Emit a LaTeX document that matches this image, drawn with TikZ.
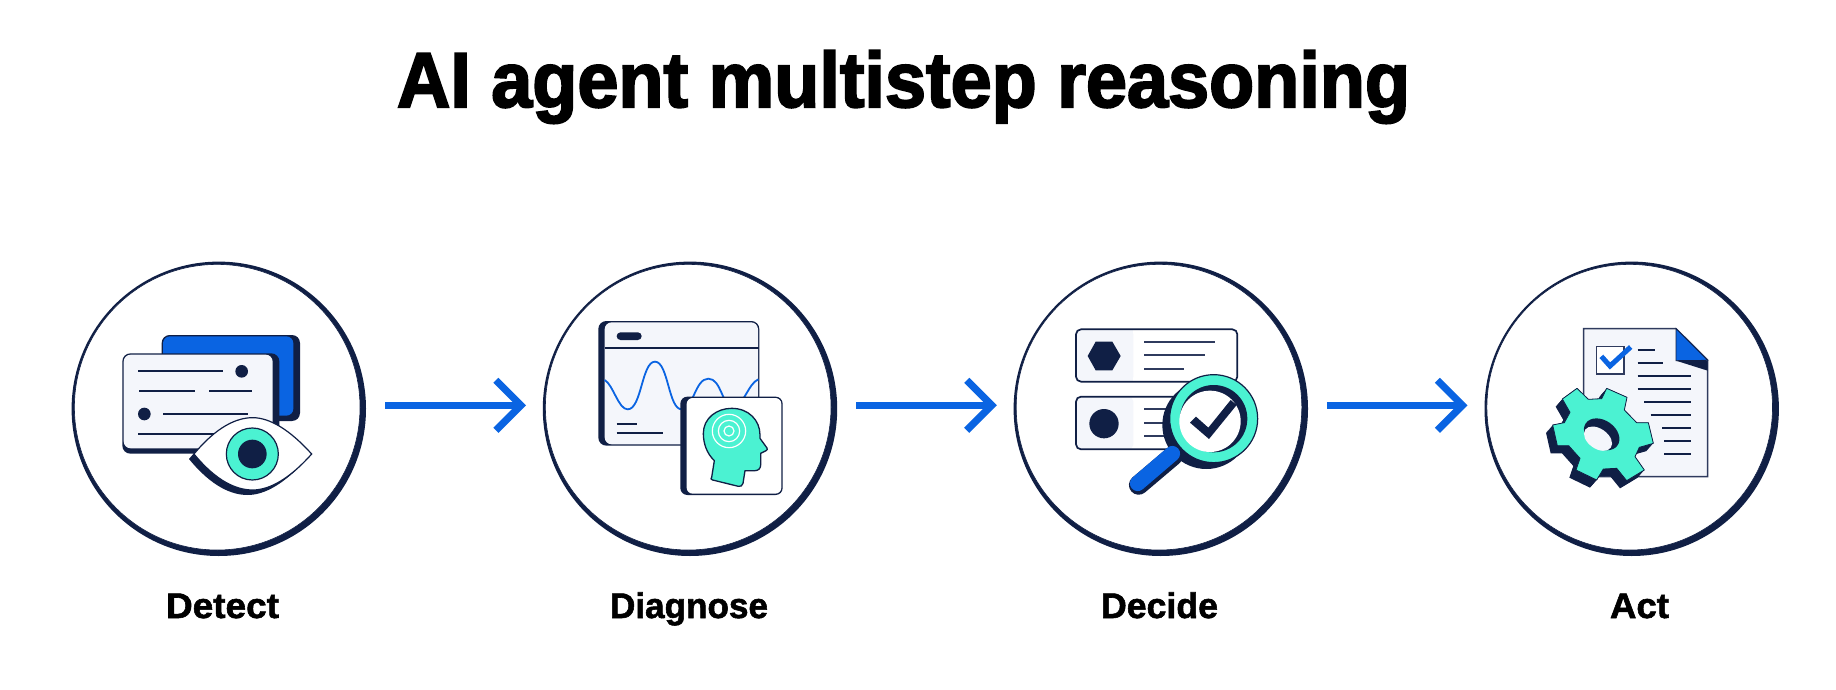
\documentclass[tikz,border=0pt]{standalone}
\usepackage{fontspec}
\usetikzlibrary{arrows.meta}
\newfontfamily\heavyfont[BoldFeatures={FakeBold=2.6}]{Liberation Sans}
\newfontfamily\labelfont[BoldFeatures={FakeBold=1.6}]{Liberation Sans}
\definecolor{navy}{HTML}{101F45}
\definecolor{royal}{HTML}{0A64E2}
\definecolor{mint}{HTML}{4BF2D2}
\definecolor{pale}{HTML}{F4F6FB}
\definecolor{slate}{HTML}{2F3B5E}
\tikzset{
  ring/.style={circle,draw=navy,fill=white,line width=0.6pt,minimum size=285.6pt,inner sep=0pt,outer sep=0pt},
  flow/.style={draw=royal,line width=6.6pt,line join=miter,shorten <=25pt,shorten >=19.4pt,
    -{Straight Barb[length=25pt,width=50pt,line width=7.2pt]}},
  txt/.style={inner sep=0pt,outer sep=0pt,anchor=base west,text=black},
  iconpx/.style={x=0.33333pt,y=-0.33333pt},
  rule/.style={draw=navy,line width=1.8pt},
  thin rule/.style={draw=slate,line width=1.8pt},
  card/.style={draw=navy,line width=1.2pt},
}
\newcommand{\gearpath}{(321,415) -- (355,448) -- (395,446) -- (410,415) -- (471,442) -- (463,480) -- (500,518) -- (535,518) -- (550,580) -- (508,592) -- (495,620) -- (523,660) -- (470,692) -- (440,655) -- (400,657) -- (380,690) -- (318,660) -- (330,625) -- (296,587) -- (262,587) -- (248,525) -- (283,518) -- (300,487) -- (277,447) -- cycle}
\begin{document}
\begin{tikzpicture}[x=1pt,y=-1pt]
\useasboundingbox (0,0) rectangle (1836,690);
\fill[white] (0,0) rectangle (1836,690);

% title
\node[txt] (title) at (397,107) {\resizebox{1013pt}{\height}{\fontsize{78}{80}\heavyfont\bfseries AI agent multistep reasoning}};

% circle shadows and rings
\fill[navy] (218.8,408.8) circle (147.2);
\fill[navy] (690,408.8) circle (147.2);
\fill[navy] (1160.8,408.8) circle (147.2);
\fill[navy] (1631.7,408.8) circle (147.2);
\node[ring] (c1) at (217.2,407.2) {};
\node[ring] (c2) at (688.2,407.2) {};
\node[ring] (c3) at (1159,407.2) {};
\node[ring] (c4) at (1629.7,407.2) {};

% connectors
\draw[flow] ([yshift=1.9pt]c1.east) -- ([yshift=1.9pt]c2.west);
\draw[flow] ([yshift=1.9pt]c2.east) -- ([yshift=1.9pt]c3.west);
\draw[flow] ([yshift=1.9pt]c3.east) -- ([yshift=1.9pt]c4.west);

% labels
\node[txt] (l1) at (166,618) {\resizebox{113pt}{\height}{\fontsize{35.5}{38}\labelfont\bfseries Detect}};
\node[txt] (l2) at (610,618) {\resizebox{158pt}{\height}{\fontsize{35.5}{38}\labelfont\bfseries Diagnose}};
\node[txt] (l3) at (1101,618) {\resizebox{117pt}{\height}{\fontsize{35.5}{38}\labelfont\bfseries Decide}};
\node[txt] (l4) at (1610,618) {\resizebox{59pt}{\height}{\fontsize{35.5}{38}\labelfont\bfseries Act}};

% icon 1: Detect
\begin{scope}[xshift=60pt,yshift=-250pt,iconpx]
\fill[navy,rounded corners=8pt] (305,255) rectangle (720,513);
\fill[royal,rounded corners=7pt] (309,259) rectangle (700,497);
\fill[navy,rounded corners=8pt] (187,310) rectangle (658,611);
\fill[pale,rounded corners=7pt] (191,314) rectangle (638,595);
\draw[rule] (235,363) -- (490,363);
\draw[rule] (237,424) -- (404,424);
\draw[rule] (447,424) -- (577,424);
\draw[rule] (309,492) -- (565,492);
\draw[rule] (235,551) -- (470,551);
\fill[navy] (545,364) circle (19);
\fill[navy] (253,492) circle (19);
\fill[navy,xshift=-5pt,yshift=-5pt] (402,612) .. controls (470,530) and (530,503) .. (578,503) .. controls (630,503) and (690,540) .. (755,612) .. controls (690,685) and (630,720) .. (578,720) .. controls (530,720) and (470,695) .. (402,612) -- cycle;
\filldraw[fill=white,card] (402,612) .. controls (470,530) and (530,503) .. (578,503) .. controls (630,503) and (690,540) .. (755,612) .. controls (690,685) and (630,720) .. (578,720) .. controls (530,720) and (470,695) .. (402,612) -- cycle;
\filldraw[fill=mint,card] (577,612) circle (78);
\fill[navy] (577,612) circle (43);
\end{scope}

% icon 2: Diagnose
\begin{scope}[xshift=530pt,yshift=-250pt,iconpx]
\fill[navy,rounded corners=8pt] (205,213) rectangle (688,587);
\fill[pale,rounded corners=7pt] (224,217) rectangle (684,583);
\draw[rule] (224,295) -- (686,295);
\fill[navy,rounded corners=3.8pt] (260,247) rectangle (335,270);
\draw[royal,line width=1.8pt] (224,390) .. controls (250,405) and (265,478) .. (293,478) .. controls (335,478) and (335,335) .. (375,335) .. controls (415,335) and (415,478) .. (455,478) .. controls (490,478) and (495,386) .. (535,386) .. controls (575,386) and (575,470) .. (610,470) .. controls (640,470) and (655,400) .. (685,388);
\draw[rule] (260,523) -- (320,523);
\draw[rule] (260,550) -- (400,550);
\fill[navy,rounded corners=7pt] (451,440) rectangle (758,735);
\fill[white,rounded corners=6pt] (470,444) rectangle (754,731);
\filldraw[fill=mint,draw=navy,line width=1.3pt,line join=round]
  (545,682) -- (553,632) .. controls (530,610) and (520,580) .. (520,550) .. controls (520,505) and (560,475) .. (605,475) .. controls (655,475) and (690,510) .. (690,555) -- (690,565) -- (711,594) .. controls (713,598) and (712,600) .. (708,602) -- (692,610) -- (692,645) .. controls (692,655) and (685,662) .. (675,662) -- (645,662) -- (639,700) .. controls (637,708) and (632,710) .. (625,709) -- (548,690) .. controls (542,688) and (541,686) .. (545,682) -- cycle;
\draw[white,line width=1.2pt] (597,543) circle (15) (597,543) circle (32) (597,543) circle (50);
\end{scope}

% icon 3: Decide
\begin{scope}[xshift=1000pt,yshift=-250pt,iconpx]
\fill[white,rounded corners=5pt] (228,238) rectangle (712,395);
\fill[pale,rounded corners=5pt] (228,238) rectangle (400,395);
\fill[pale] (380,240) rectangle (400,393);
\draw[navy,line width=1.7pt,rounded corners=5pt] (228,238) rectangle (712,395);
\fill[navy] (263,318) -- (287,275) -- (337,275) -- (362,318) -- (337,361) -- (287,361) -- cycle;
\draw[thin rule] (432,275) -- (645,275);
\draw[thin rule] (432,315) -- (615,315);
\draw[thin rule] (432,356) -- (553,356);
\fill[white,rounded corners=5pt] (228,440) rectangle (712,598);
\fill[pale,rounded corners=5pt] (228,440) rectangle (400,598);
\draw[navy,line width=1.7pt,rounded corners=5pt] (228,440) rectangle (712,598);
\fill[navy] (312,521) circle (44);
\draw[thin rule] (432,478) -- (530,478);
\draw[thin rule] (432,518) -- (530,518);
\draw[thin rule] (432,559) -- (530,559);
\fill[navy] (619,525) circle (132);
\draw[navy,line width=19.5pt,line cap=round] (416,705) -- (520,617);
\draw[royal,line width=15.5pt,line cap=round] (413,700) -- (517,611);
\filldraw[fill=mint,card] (641,506) circle (132);
\fill[navy] (641,506) circle (101);
\fill[white] (630,514) circle (92);
\fill[navy] (570,518) -- (588,500) -- (625,533) -- (692,450) -- (710,465) -- (627,567) -- cycle;
\end{scope}

% icon 4: Act
\begin{scope}[xshift=1470pt,yshift=-250pt,iconpx]
\filldraw[fill=pale,draw=slate,line width=1.5pt] (341,236) -- (618,236) -- (713,330) -- (713,680) -- (341,680) -- cycle;
\fill[navy] (618,332) -- (713,332) -- (713,362) -- cycle;
\filldraw[fill=royal,draw=navy,line width=0.8pt] (618,236) -- (618,332) -- (713,331) -- cycle;
\filldraw[fill=white,draw=slate,line width=1.5pt] (379,290) rectangle (462,372);
\draw[royal,line width=5pt,line join=miter] (394,319) -- (420,348) -- (482,291);
\draw[rule] (503,300) -- (554,300);
\draw[rule] (503,339) -- (580,339);
\draw[rule] (503,378) -- (662,378);
\draw[rule] (503,417) -- (662,417);
\draw[rule] (522,456) -- (662,456);
\draw[rule] (542,495) -- (662,495);
\draw[rule] (577,535) -- (662,535);
\draw[rule] (583,574) -- (662,574);
\draw[rule] (583,613) -- (662,613);
\foreach \k in {0,1,...,12}{
  \fill[navy,xshift={-\k*0.5556pt},yshift={-\k*0.6389pt}] \gearpath;
}
\filldraw[fill=mint,draw=navy,line width=0.8pt,line join=round] \gearpath;
\fill[navy,rotate around={-35:(395,553)}] (395,553) ellipse (58 and 42);
\fill[pale,rotate around={-35:(384,566)}] (384,566) ellipse (47 and 30);
\end{scope}
\end{tikzpicture}
\end{document}
